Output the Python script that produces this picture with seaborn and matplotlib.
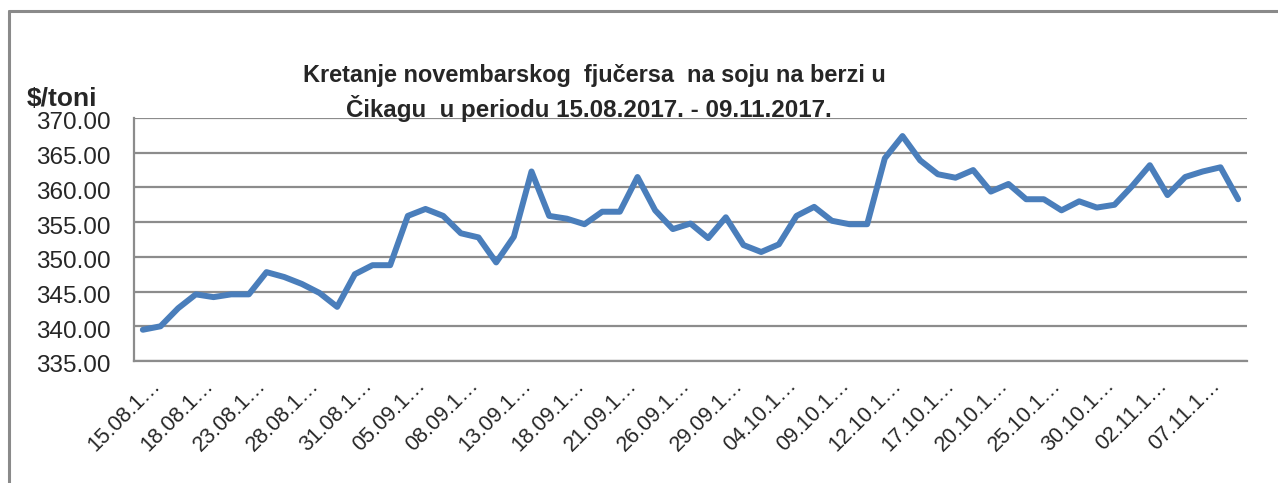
import matplotlib
matplotlib.use("Agg")
import matplotlib.pyplot as plt
import matplotlib.transforms as mtransforms
from matplotlib.lines import Line2D
import seaborn as sns
import pandas as pd
import numpy as np

# ---- data ----
dates = [
    "15.08.2017", "16.08.2017", "17.08.2017", "18.08.2017", "21.08.2017", "22.08.2017",
    "23.08.2017", "24.08.2017", "25.08.2017", "28.08.2017", "29.08.2017", "30.08.2017",
    "31.08.2017", "01.09.2017", "04.09.2017", "05.09.2017", "06.09.2017", "07.09.2017",
    "08.09.2017", "11.09.2017", "12.09.2017", "13.09.2017", "14.09.2017", "15.09.2017",
    "18.09.2017", "19.09.2017", "20.09.2017", "21.09.2017", "22.09.2017", "25.09.2017",
    "26.09.2017", "27.09.2017", "28.09.2017", "29.09.2017", "02.10.2017", "03.10.2017",
    "04.10.2017", "05.10.2017", "06.10.2017", "09.10.2017", "10.10.2017", "11.10.2017",
    "12.10.2017", "13.10.2017", "16.10.2017", "17.10.2017", "18.10.2017", "19.10.2017",
    "20.10.2017", "23.10.2017", "24.10.2017", "25.10.2017", "26.10.2017", "27.10.2017",
    "30.10.2017", "31.10.2017", "01.11.2017", "02.11.2017", "03.11.2017", "06.11.2017",
    "07.11.2017", "08.11.2017", "09.11.2017",
]
prices = [
    339.5, 340.0, 342.6, 344.6, 344.2, 344.6, 344.6, 347.8, 347.1, 346.1,
    344.8, 342.8, 347.5, 348.8, 348.8, 355.9, 356.9, 355.9, 353.4, 352.8,
    349.2, 352.9, 362.3, 355.9, 355.5, 354.7, 356.5, 356.5, 361.5, 356.7,
    354.0, 354.8, 352.7, 355.7, 351.7, 350.7, 351.8, 355.9, 357.2, 355.2,
    354.7, 354.7, 364.2, 367.4, 363.9, 361.9, 361.4, 362.5, 359.4, 360.5,
    358.3, 358.3, 356.7, 358.0, 357.1, 357.5, 360.2, 363.2, 358.9, 361.5,
    362.3, 362.9, 358.3,
]
tick_labels = [
    "15.08.1…", "18.08.1…", "23.08.1…", "28.08.1…", "31.08.1…", "05.09.1…",
    "08.09.1…", "13.09.1…", "18.09.1…", "21.09.1…", "26.09.1…", "29.09.1…",
    "04.10.1…", "09.10.1…", "12.10.1…", "17.10.1…", "20.10.1…", "25.10.1…",
    "30.10.1…", "02.11.1…", "07.11.1…",
]
y_ticks = [335, 340, 345, 350, 355, 360, 365, 370]
title_lines = ["Kretanje novembarskog  fjučersa  na soju na berzi u",
               "Čikagu  u periodu 15.08.2017. - 09.11.2017."]
unit_label = "$/toni"

df = pd.DataFrame({"idx": np.arange(len(dates)), "date": dates, "price": prices})

sns.set_style("white")
plt.rcParams["font.family"] = ["Liberation Sans", "DejaVu Sans"]

W, H = 1278, 483
fig = plt.figure(figsize=(W / 100, H / 100), dpi=100)
ax = fig.add_axes([134 / W, 1 - 361 / H, (1247 - 134) / W, (361 - 118) / H])

grid_c = "#8c8c8c"
for v in y_ticks:
    ax.axhline(v, color=grid_c, lw=1.6, zorder=1)

sns.lineplot(data=df, x="idx", y="price", ax=ax, color="#4a7ebb", lw=4.3,
             zorder=3)

ax.set_xlim(-0.5, len(dates) - 0.5)
ax.set_ylim(335, 370)
ax.set_yticks(y_ticks)
ax.set_yticklabels([f"{v:.2f}" for v in y_ticks], fontsize=17.5)
tick_pos = df["idx"].iloc[::3].tolist()
ax.set_xticks(tick_pos)
ax.set_xticklabels(tick_labels, fontsize=15.5, rotation=45, ha="right",
                   rotation_mode="anchor", va="center")
ax.tick_params(axis="x", length=0, pad=14)
ax.tick_params(axis="y", length=8, width=1.6, color=grid_c, direction="out", pad=9)
ax.set_xlabel("")
ax.set_ylabel("")
for s in ["top", "right"]:
    ax.spines[s].set_visible(False)
for s in ["left", "bottom"]:
    ax.spines[s].set_color(grid_c)
    ax.spines[s].set_linewidth(1.6)

# small offsets of tick labels to follow the reference placement
xoff = mtransforms.ScaledTranslation(14 / 100, -2 / 100, fig.dpi_scale_trans)
for lab in ax.get_xticklabels():
    lab.set_transform(lab.get_transform() + xoff)
yoff = mtransforms.ScaledTranslation(0, -3 / 100, fig.dpi_scale_trans)
for lab in ax.get_yticklabels():
    lab.set_transform(lab.get_transform() + yoff)

# titles
tfam = ["Liberation Sans", "DejaVu Sans"]
fig.text(594 / W, 1 - 82 / H, title_lines[0], ha="center", va="baseline",
         fontsize=16.9, fontweight="bold", family=tfam)
fig.text(589 / W, 1 - 117 / H, title_lines[1], ha="center", va="baseline",
         fontsize=17.4, fontweight="bold", family=tfam)
fig.text(27 / W, 1 - 106 / H, unit_label, ha="left", va="baseline",
         fontsize=19, fontweight="bold", family=tfam)

# outer chart frame
fig.add_artist(Line2D([9 / W, 1.0], [1 - 11 / H, 1 - 11 / H], color="#8a8a8a",
                      lw=2.2, transform=fig.transFigure))
fig.add_artist(Line2D([9 / W, 9 / W], [1 - 11 / H, 0.0], color="#8a8a8a",
                      lw=2.2, transform=fig.transFigure))

fig.savefig("out.png", dpi=100)
